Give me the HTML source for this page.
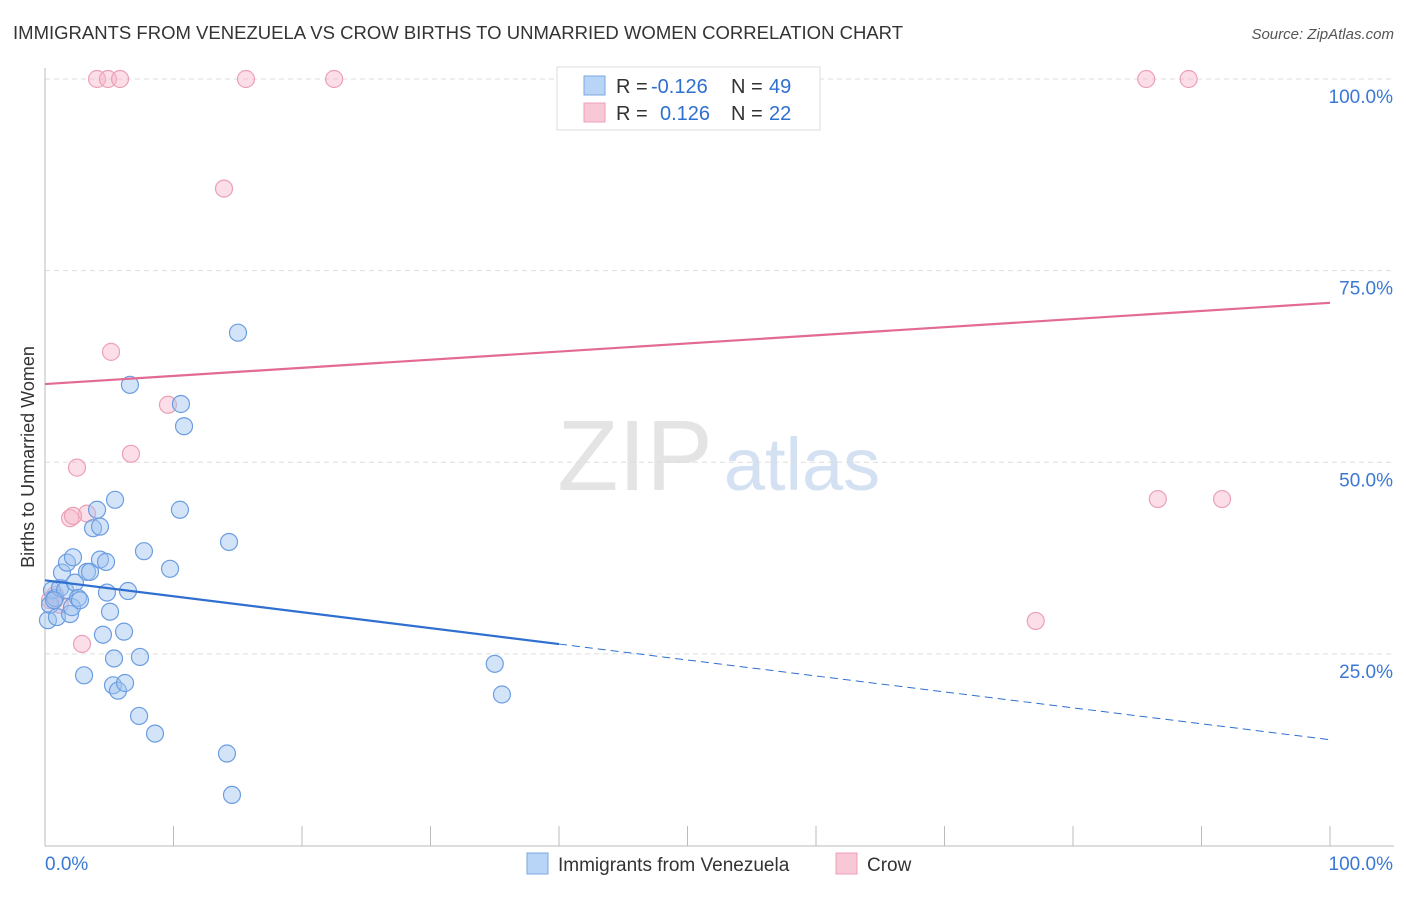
<!DOCTYPE html>
<html><head><meta charset="utf-8"><style>
body{margin:0;background:#fff;font-family:"Liberation Sans",sans-serif;}
svg text{font-family:"Liberation Sans",sans-serif;}
</style></head><body>
<svg id="chart" width="1406" height="892" xmlns="http://www.w3.org/2000/svg">
<text x="13" y="39" font-size="18" fill="#333" textLength="890" lengthAdjust="spacingAndGlyphs">IMMIGRANTS FROM VENEZUELA VS CROW BIRTHS TO UNMARRIED WOMEN CORRELATION CHART</text>
<text x="1394" y="39" font-size="15" fill="#555" font-style="italic" text-anchor="end">Source: ZipAtlas.com</text>
<g>
<text x="635" y="490" font-size="100" fill="#e4e4e4" font-family="Liberation Serif" text-anchor="middle">ZIP</text>
<text x="802" y="490" font-size="74" fill="#d3e1f3" text-anchor="middle">atlas</text>
</g>
<g id="grid"></g><g id="axes"></g><g id="marks"></g>
<text transform="translate(34,457) rotate(-90)" font-size="18" fill="#333" text-anchor="middle">Births to Unmarried Women</text>
<g>
<rect x="557" y="67" width="263" height="63" fill="#fff" stroke="#ddd"/>
<rect x="584" y="76" width="21" height="19" fill="#b8d4f6" stroke="#7ba7e0"/>
<rect x="584" y="103" width="21" height="19" fill="#f9c8d6" stroke="#eca0b6"/>
<text x="616" y="93" font-size="20" fill="#333">R =</text>
<text x="651" y="93" font-size="20" fill="#2f6fd0">-0.126</text>
<text x="731" y="93" font-size="20" fill="#333">N =</text>
<text x="769" y="93" font-size="20" fill="#2f6fd0">49</text>
<text x="616" y="120" font-size="20" fill="#333">R =</text>
<text x="660" y="120" font-size="20" fill="#2f6fd0">0.126</text>
<text x="731" y="120" font-size="20" fill="#333">N =</text>
<text x="769" y="120" font-size="20" fill="#2f6fd0">22</text>
</g>
<g>
<rect x="527" y="853" width="21" height="21" fill="#b8d4f6" stroke="#7ba7e0"/>
<text x="558" y="871" font-size="19" fill="#333">Immigrants from Venezuela</text>
<rect x="836" y="853" width="21" height="21" fill="#f9c8d6" stroke="#eca0b6"/>
<text x="867" y="871" font-size="19" fill="#333">Crow</text>
</g>
</svg>
<script>
const blueX=[0.23,0.39,0.54,0.78,0.93,1.17,1.32,1.56,1.71,1.95,2.10,2.18,2.33,2.57,2.72,3.04,3.27,3.50,3.74,4.05,4.28,4.28,4.51,4.75,4.82,5.06,5.29,5.37,5.45,5.68,6.15,6.23,6.46,6.61,7.32,7.39,7.70,8.56,9.73,10.5,10.58,10.82,14.16,14.32,14.55,15.02,35.0,35.56,0.70];
const blueY=[29.4,31.4,33.3,32.3,29.8,33.6,35.6,33.3,36.9,30.2,31.1,37.6,34.3,32.3,32.0,22.2,35.7,35.7,41.4,43.8,41.6,37.3,27.5,37.0,33.0,30.5,20.9,24.4,45.1,20.2,27.9,21.2,33.2,60.1,16.9,24.6,38.4,14.6,36.1,43.8,57.6,54.7,12.0,39.6,6.6,66.9,23.7,19.7,32.0];
const pinkX=[4.05,4.9,5.84,15.64,22.5,85.7,89.0,13.93,5.14,9.57,6.69,2.49,3.27,1.95,2.18,2.88,0.78,1.17,86.6,91.6,77.1,0.39];
const pinkY=[100,100,100,100,100,100,100,85.7,64.4,57.5,51.1,49.3,43.3,42.7,43.0,26.3,32.7,31.4,45.2,45.2,29.3,32.0];
const blueTrend=[34.6,13.8];
const pinkTrend=[60.2,70.8];
const yTicks=[25,50,75,100];
const yTickLabels=["25.0%","50.0%","75.0%","100.0%"];
const xTicks=[0,10,20,30,40,50,60,70,80,90,100];
const NS="http://www.w3.org/2000/svg";
const X=v=>45+v*12.85, Y=v=>845.5-v*7.665;
function mk(p,t,a){const e=document.createElementNS(NS,t);for(const k in a)e.setAttribute(k,a[k]);p.appendChild(e);return e;}
const grid=document.getElementById('grid'),axes=document.getElementById('axes'),marks=document.getElementById('marks');
yTicks.forEach((v,i)=>{
 const l=mk(grid,'line',{x1:45,x2:1394,y1:Y(v),y2:Y(v),stroke:'#ddd','stroke-dasharray':'5,4'});
 
 
 const t=mk(axes,'text',{x:1393,y:Y(v)+24,'font-size':19,fill:'#3a78d4','text-anchor':'end'});
 t.textContent=yTickLabels[i];
 
 
});
const ax=mk(axes,'line',{x1:45,x2:45,y1:68,y2:846,stroke:'#bbb'});


const bx=mk(axes,'line',{x1:45,x2:1394,y1:846,y2:846,stroke:'#bbb'});


xTicks.forEach(v=>{const t=mk(axes,'line',{x1:X(v),x2:X(v),y1:826,y2:846,stroke:'#bbb'});
 
 });
const x0=mk(axes,'text',{x:45,y:870,'font-size':19,fill:'#3a78d4'});x0.textContent='0.0%';


const x1=mk(axes,'text',{x:1393,y:870,'font-size':19,fill:'#3a78d4','text-anchor':'end'});x1.textContent='100.0%';


pinkX.forEach((v,i)=>{const c=mk(marks,'circle',{cx:X(v),cy:Y(pinkY[i]),r:8.5,fill:'rgba(246,182,202,0.45)',stroke:'#eca0b6','stroke-width':1.2});
 
 });
blueX.forEach((v,i)=>{const c=mk(marks,'circle',{cx:X(v),cy:Y(blueY[i]),r:8.5,fill:'rgba(160,196,240,0.45)',stroke:'#6b9de0','stroke-width':1.2});
 
 });
const by=v=>blueTrend[0]+(blueTrend[1]-blueTrend[0])*v/100;
const b1=mk(marks,'line',{x1:X(0),y1:Y(by(0)),x2:X(40),y2:Y(by(40)),stroke:'#2f6fd0','stroke-width':2.2});


const b2=mk(marks,'line',{x1:X(40),y1:Y(by(40)),x2:X(100),y2:Y(by(100)),stroke:'#2f6fd0','stroke-width':1,'stroke-dasharray':'8,5'});


const p1=mk(marks,'line',{x1:X(0),y1:Y(pinkTrend[0]),x2:X(100),y2:Y(pinkTrend[1]),stroke:'#e26a93','stroke-width':2.2});


</script>
</body></html>
